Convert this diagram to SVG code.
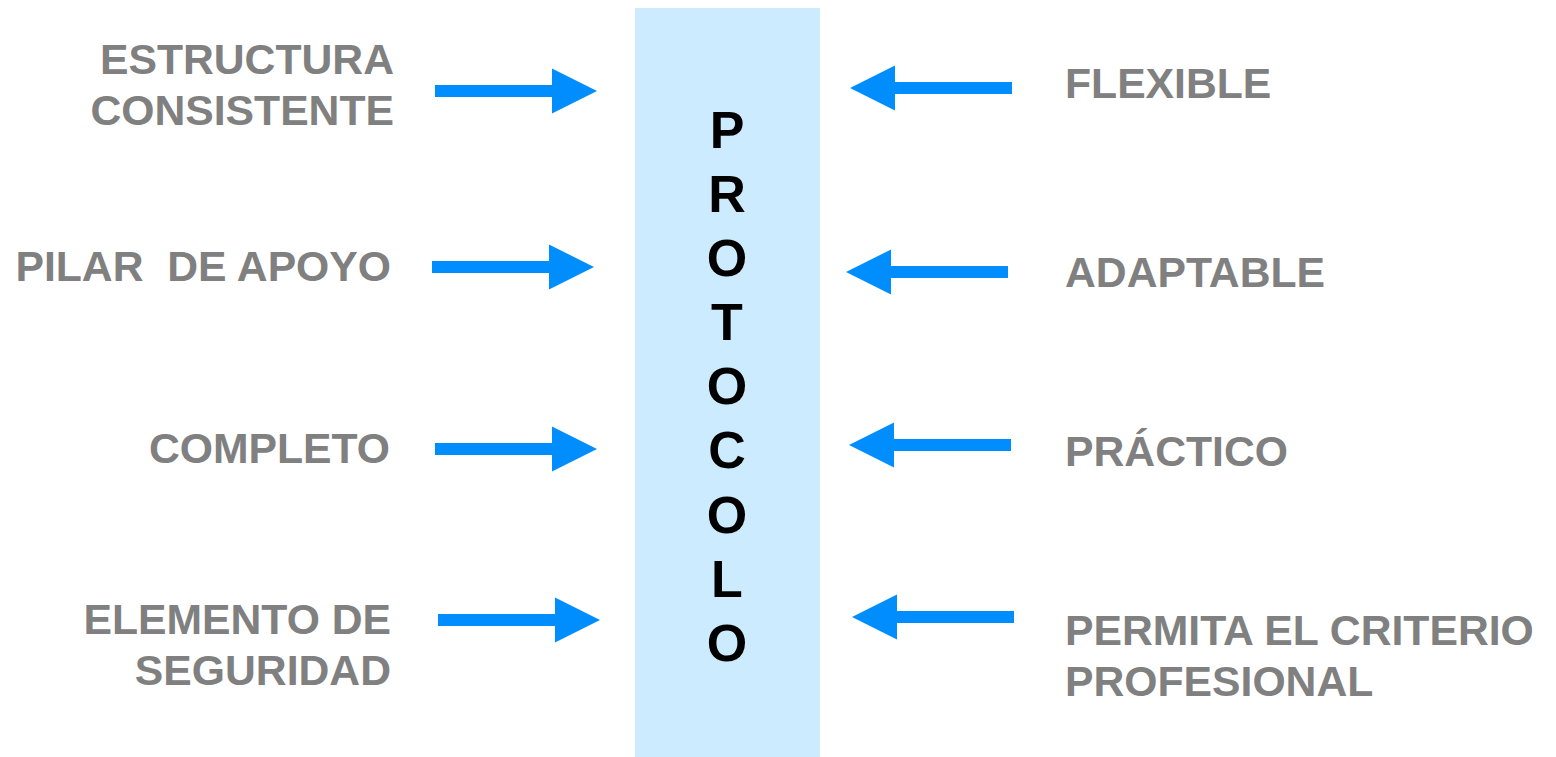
<svg xmlns="http://www.w3.org/2000/svg" xmlns:xlink="http://www.w3.org/1999/xlink" width="1556" height="757" viewBox="0 0 1556 757">
<style>
.lbl{font-family:"Liberation Sans",Arial,sans-serif;font-weight:bold;font-size:42.7px;fill:#808080;white-space:pre}
.l{text-anchor:end}
.r{text-anchor:start}
.v{font-family:"Liberation Sans",Arial,sans-serif;font-weight:bold;font-size:52px;fill:#000;text-anchor:middle}
.arr{fill:#008EFF}
</style>
<defs>
<polygon id="arrow" class="arr" points="0,-6 117,-6 117,-22.5 162,0 117,22.5 117,6 0,6"/>
</defs>
<rect width="1556" height="757" fill="#fff"/>
<g id="protocolo">
<rect x="635" y="8" width="185" height="749" fill="#CCEBFE"/>
<text class="v" x="727" y="148">P</text>
<text class="v" x="727" y="212">R</text>
<text class="v" x="727" y="276">O</text>
<text class="v" x="727" y="340">T</text>
<text class="v" x="727" y="404">O</text>
<text class="v" x="727" y="468">C</text>
<text class="v" x="727" y="533">O</text>
<text class="v" x="727" y="597">L</text>
<text class="v" x="727" y="661">O</text>
</g>
<g id="estructura"><text class="lbl l" x="394" y="74">ESTRUCTURA</text><text class="lbl l" x="394" y="125">CONSISTENTE</text></g>
<g id="pilar"><text class="lbl l" x="391" y="281" xml:space="preserve">PILAR  DE APOYO</text></g>
<g id="completo"><text class="lbl l" x="390" y="463">COMPLETO</text></g>
<g id="elemento"><text class="lbl l" x="391" y="634">ELEMENTO DE</text><text class="lbl l" x="391" y="685">SEGURIDAD</text></g>
<g id="flexible"><text class="lbl r" x="1065" y="98">FLEXIBLE</text></g>
<g id="adaptable"><text class="lbl r" x="1065" y="287">ADAPTABLE</text></g>
<g id="practico"><text class="lbl r" x="1065" y="466">PRÁCTICO</text></g>
<g id="permita"><text class="lbl r" x="1065" y="645">PERMITA EL CRITERIO</text><text class="lbl r" x="1065" y="696">PROFESIONAL</text></g>
<g id="connectors">
<use xlink:href="#arrow" transform="translate(435,91)"/>
<use xlink:href="#arrow" transform="translate(432,267)"/>
<use xlink:href="#arrow" transform="translate(435,449)"/>
<use xlink:href="#arrow" transform="translate(438,620)"/>
<use xlink:href="#arrow" transform="translate(1012,88) scale(-1,1)"/>
<use xlink:href="#arrow" transform="translate(1008,272) scale(-1,1)"/>
<use xlink:href="#arrow" transform="translate(1011,445) scale(-1,1)"/>
<use xlink:href="#arrow" transform="translate(1014,617) scale(-1,1)"/>
</g>
</svg>
